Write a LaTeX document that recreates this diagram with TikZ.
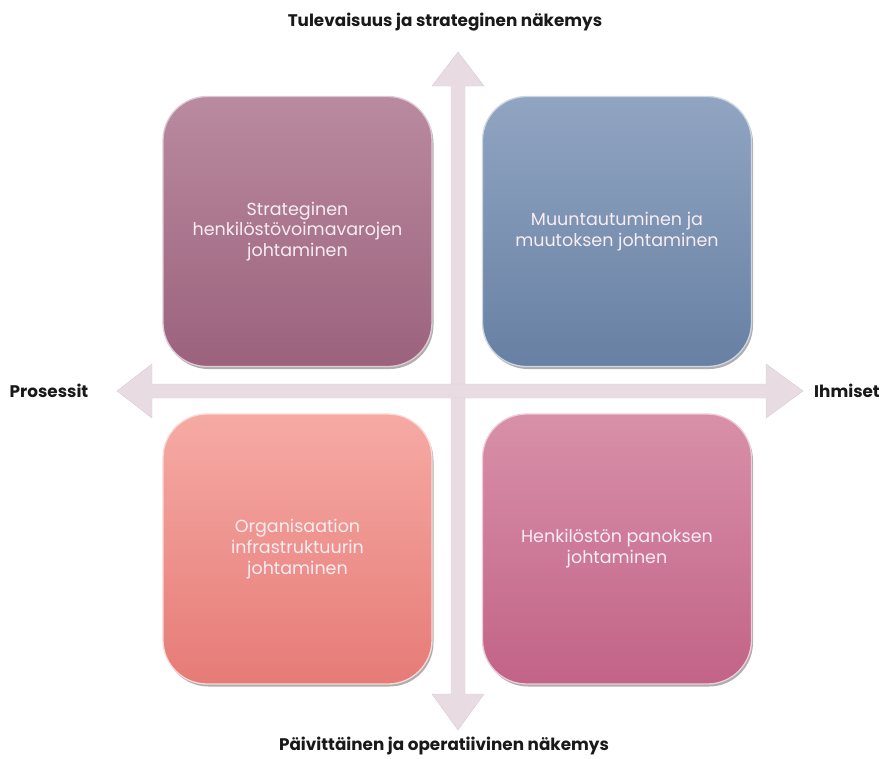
\documentclass[tikz,border=0pt]{standalone}
\usepackage{fontspec}
\setmainfont{Poppins}
\usetikzlibrary{shadows,calc}

\definecolor{axisfill}{HTML}{E8DCE2}
\definecolor{axisedge}{HTML}{D9C8D1}
\definecolor{quadtext}{HTML}{F7EDF2}
\definecolor{tlTop}{HTML}{B98AA0}
\definecolor{tlBot}{HTML}{9C627D}
\definecolor{trTop}{HTML}{91A5C2}
\definecolor{trBot}{HTML}{6780A3}
\definecolor{blTop}{HTML}{F6AAA4}
\definecolor{blBot}{HTML}{E67B77}
\definecolor{brTop}{HTML}{D890A8}
\definecolor{brBot}{HTML}{C26387}

\tikzset{
  quad/.style={
    rounded corners=44pt, minimum width=269pt, minimum height=270pt,
    draw=white!55!#1, line width=1.3pt, align=center, text=quadtext,
    font=\fontsize{17.5}{20.8}\selectfont,
    drop shadow={shadow xshift=1.5pt, shadow yshift=-2.5pt,
                 opacity=0.45, fill=black!70}},
  axislabel/.style={font=\bfseries\fontsize{16.8}{19}\selectfont, text=black!90},
  axisbody/.style={fill=axisfill, draw=axisedge, line width=0.4pt}
}

\begin{document}
\begin{tikzpicture}[x=1pt,y=-1pt]
\useasboundingbox (0,0) rectangle (883,758);

% end points of the two axes
\coordinate (up)    at (458,52);
\coordinate (down)  at (458,730);
\coordinate (left)  at (117,391);
\coordinate (right) at (803,391);

% vertical axis with heads at both ends
\path[axisbody] (up) -- ++(26,34) -- ++(-19,0) -- ($(down)+(7,-36)$)
  -- ++(19,0) -- (down) -- ++(-26,-36) -- ++(19,0) -- ($(up)+(-7,34)$)
  -- ++(-19,0) -- cycle;

% horizontal axis with heads at both ends
\path[axisbody] (left) -- ++(35,-27) -- ++(0,20) -- ($(right)+(-37,-7)$)
  -- ++(0,-20) -- (right) -- ++(-37,27) -- ++(0,-20) -- ($(left)+(35,7)$)
  -- ++(0,20) -- cycle;

% the four quadrants
\node[quad=tlTop, top color=tlTop, bottom color=tlBot] (strat) at (297.5,231.5)
  {Strateginen\\henkilöstövoimavarojen\\johtaminen};
\node[quad=trTop, top color=trTop, bottom color=trBot] (muutos) at (617,231.5)
  {Muuntautuminen ja\\muutoksen johtaminen};
\node[quad=blTop, top color=blTop, bottom color=blBot] (infra) at (297.5,549)
  {Organisaation\\infrastruktuurin\\johtaminen};
\node[quad=brTop, top color=brTop, bottom color=brBot] (panos) at (617,549)
  {Henkilöstön panoksen\\johtaminen};

% axis captions
\node[axislabel] (future) at (445,22)  {Tulevaisuus ja strateginen näkemys};
\node[axislabel] (daily)  at (444,746) {Päivittäinen ja operatiivinen näkemys};
\node[axislabel] (proc)   at (49,391)  {Prosessit};
\node[axislabel] (people) at (847,391) {Ihmiset};
\end{tikzpicture}
\end{document}
